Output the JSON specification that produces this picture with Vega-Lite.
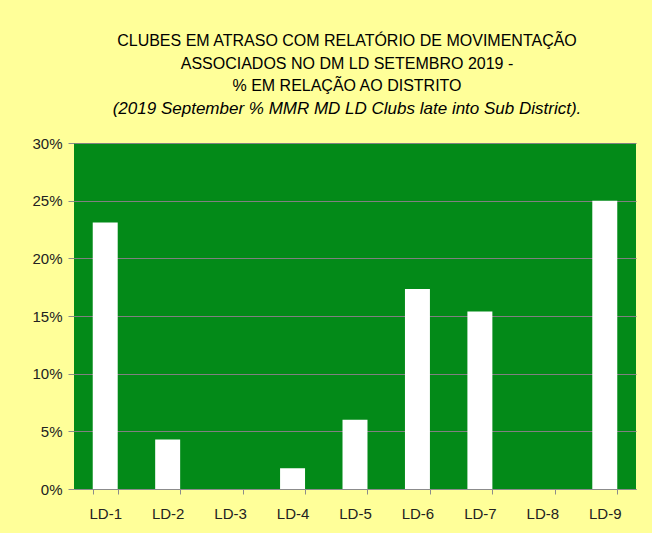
{
  "$schema": "https://vega.github.io/schema/vega-lite/v6.json",
  "width": 562,
  "height": 346,
  "autosize": {"type": "none"},
  "padding": {"left": 74, "top": 143, "right": 16, "bottom": 44},
  "background": "#FFFF99",
  "title": {
    "text": ["CLUBES EM ATRASO COM RELATÓRIO DE MOVIMENTAÇÃO", "ASSOCIADOS NO DM LD  SETEMBRO 2019  -", "%  EM RELAÇÃO AO DISTRITO"],
    "subtitle": "(2019 September % MMR MD LD Clubs late into Sub District).",
    "font": "Liberation Sans",
    "fontSize": 16,
    "fontWeight": "normal",
    "lineHeight": 22.5,
    "color": "#000000",
    "subtitleFont": "Liberation Sans",
    "subtitleFontSize": 17,
    "subtitleFontStyle": "italic",
    "subtitleColor": "#000000",
    "subtitlePadding": 7,
    "anchor": "middle",
    "dx": -8,
    "offset": 19
  },
  "data": {
    "values": [
      {"ld": "LD-1", "pct": 0.231},
      {"ld": "LD-2", "pct": 0.043},
      {"ld": "LD-3", "pct": 0.0},
      {"ld": "LD-4", "pct": 0.018},
      {"ld": "LD-5", "pct": 0.06},
      {"ld": "LD-6", "pct": 0.1735},
      {"ld": "LD-7", "pct": 0.154},
      {"ld": "LD-8", "pct": 0.0},
      {"ld": "LD-9", "pct": 0.25}
    ]
  },
  "mark": {"type": "bar", "fill": "#FFFFFF"},
  "encoding": {
    "x": {
      "field": "ld",
      "type": "nominal",
      "sort": null,
      "scale": {"paddingInner": 0.6, "paddingOuter": 0.3},
      "axis": {
        "title": null,
        "labelAngle": 0,
        "labelFont": "Liberation Sans",
        "labelFontSize": 15,
        "labelColor": "#222222",
        "labelPadding": 12,
        "domainColor": "#8C8C8C",
        "tickColor": "#8C8C8C",
        "tickSize": 5,
        "tickBand": "extent",
        "grid": false
      }
    },
    "y": {
      "field": "pct",
      "type": "quantitative",
      "scale": {"domain": [0, 0.3], "nice": false},
      "axis": {
        "title": null,
        "format": ".0%",
        "values": [0, 0.05, 0.1, 0.15, 0.2, 0.25, 0.3],
        "labelFont": "Liberation Sans",
        "labelFontSize": 15,
        "labelColor": "#222222",
        "labelPadding": 6,
        "domain": false,
        "tickColor": "#8C8C8C",
        "tickSize": 6,
        "grid": true,
        "gridColor": "#808080",
        "gridWidth": 1,
        "gridOpacity": 1
      }
    }
  },
  "config": {
    "view": {"fill": "#038A18", "stroke": null}
  }
}
